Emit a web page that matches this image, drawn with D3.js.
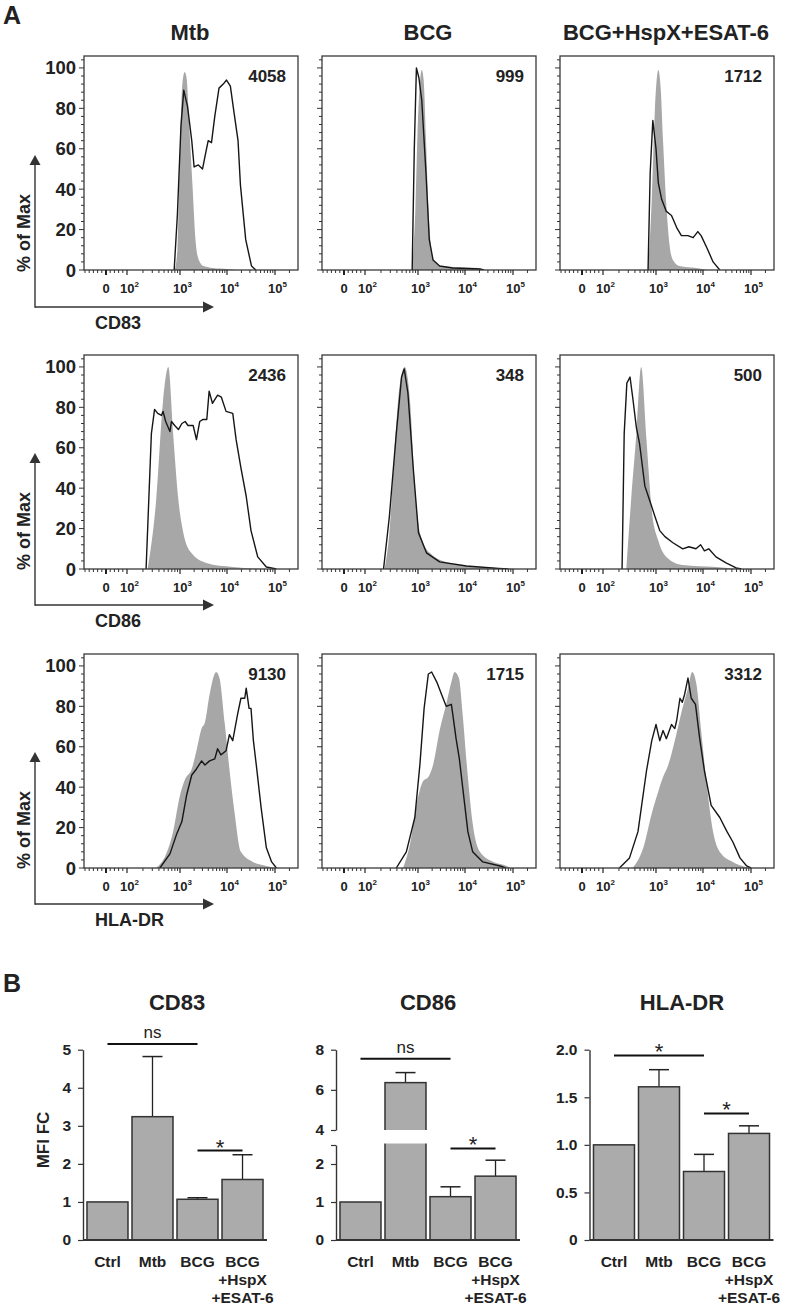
<!DOCTYPE html>
<html><head><meta charset="utf-8">
<script src="https://cdn.jsdelivr.net/npm/d3@7"></script>
<style>
body{margin:0;background:#fff}
text{font-family:"Liberation Sans",Arial,Helvetica,sans-serif;fill:#222}
</style></head>
<body>
<svg id="chart" width="786" height="1306"></svg>
<script>
// ---------------- DATA ----------------
const colTitles = ["Mtb", "BCG", "BCG+HspX+ESAT-6"];
const markers = ["CD83", "CD86", "HLA-DR"];
const mfiCD83 = ["4058", "999", "1712"];
const mfiCD86 = ["2436", "348", "500"];
const mfiHLA = ["9130", "1715", "3312"];
const histYTicks = [0, 20, 40, 60, 80, 100];
const histXMajor = [0, 1e2, 1e3, 1e4, 1e5];
const histXLabels = [["0", ""], ["10", "2"], ["10", "3"], ["10", "4"], ["10", "5"]];

// histogram points: [log10(fluorescence), % of Max]
// gray = unstimulated control (filled), line = stimulated (black line)
const gray_CD83_Mtb = [[2.90,0],[2.95,10],[3.00,60],[3.05,92],[3.10,98],[3.14,95],[3.20,70],[3.27,40],[3.33,15],[3.40,5],[3.50,2],[3.70,1],[4.00,0.5],[4.20,0]];
const line_CD83_Mtb = [[2.89,0],[2.95,27],[3.02,71],[3.08,89],[3.16,81],[3.25,64],[3.30,51],[3.39,52],[3.48,50],[3.53,56],[3.60,64],[3.67,63],[3.74,76],[3.83,90],[3.92,92],[3.99,94],[4.07,91],[4.14,79],[4.23,64],[4.28,42],[4.39,15],[4.51,2],[4.60,0]];
const gray_CD83_BCG = [[2.89,0],[2.95,30],[3.00,75],[3.05,95],[3.08,99],[3.12,94],[3.17,65],[3.22,32],[3.29,9],[3.36,4],[3.50,2],[3.80,1.5],[4.30,1],[4.40,0]];
const line_CD83_BCG = [[2.89,0],[2.93,60],[2.97,100],[3.02,95],[3.08,84],[3.17,48],[3.24,15],[3.32,5],[3.46,2],[3.74,1],[4.30,0.5],[4.40,0]];
const gray_CD83_Combo = [[2.85,0],[2.92,35],[2.98,80],[3.05,99],[3.10,90],[3.15,64],[3.22,32],[3.29,12],[3.36,5],[3.50,2],[3.86,1],[4.10,0]];
const line_CD83_Combo = [[2.85,0],[2.89,48],[2.94,74],[3.00,60],[3.05,43],[3.12,35],[3.22,29],[3.33,27],[3.44,21],[3.54,17],[3.68,17],[3.79,16],[3.89,19],[3.96,17],[4.08,11],[4.21,4],[4.35,0]];

const gray_CD86_Mtb = [[2.39,0],[2.55,34],[2.68,83],[2.78,100],[2.87,67],[2.97,34],[3.07,18],[3.24,8],[3.56,3],[4.12,1],[4.80,0]];
const line_CD86_Mtb = [[2.36,0],[2.46,67],[2.52,79],[2.58,77],[2.65,76],[2.68,78],[2.73,73],[2.81,68],[2.84,73],[2.90,71],[2.97,69],[3.04,72],[3.11,73],[3.17,71],[3.28,71],[3.35,64],[3.42,73],[3.49,74],[3.57,74],[3.62,88],[3.69,82],[3.80,86],[3.88,85],[3.98,78],[4.12,77],[4.19,64],[4.29,50],[4.40,36],[4.50,19],[4.64,6],[4.82,1],[5.03,0]];
const gray_CD86_BCG = [[2.37,0],[2.46,18],[2.56,59],[2.65,90],[2.75,100],[2.85,83],[2.94,41],[3.04,18],[3.25,8],[3.67,3],[4.37,1],[5.07,0]];
const line_CD86_BCG = [[2.35,0],[2.46,26],[2.59,67],[2.69,95],[2.74,99],[2.81,87],[2.91,50],[3.01,18],[3.18,8],[3.46,3.5],[4.03,1.5],[4.70,0.3],[4.90,0]];
const gray_CD86_Combo = [[2.44,0],[2.53,34],[2.63,67],[2.72,100],[2.82,64],[2.92,29],[3.05,14],[3.22,6],[3.57,2],[4.27,1],[4.77,0]];
const line_CD86_Combo = [[2.36,0],[2.40,67],[2.45,92],[2.51,95],[2.56,85],[2.63,70],[2.69,62],[2.79,41],[2.88,34],[2.98,26],[3.08,19],[3.19,16],[3.36,13],[3.57,10],[3.70,11],[3.85,10],[3.95,12],[4.03,9],[4.12,10],[4.27,6],[4.48,3],[4.69,0.5],[4.80,0]];

const gray_HLA_Mtb = [[2.55,0],[2.74,7],[2.87,18],[3.00,36],[3.11,44],[3.25,49],[3.35,58],[3.46,69],[3.53,72],[3.63,86],[3.77,97],[3.84,94],[3.95,72],[4.05,49],[4.16,27],[4.29,8],[4.54,3],[4.82,1],[5.00,0]];
const line_HLA_Mtb = [[2.62,0],[2.81,7],[2.94,17],[3.04,23],[3.14,36],[3.25,46],[3.35,49],[3.46,53],[3.53,51],[3.63,53],[3.74,54],[3.80,59],[3.87,56],[3.98,58],[4.05,66],[4.12,63],[4.22,76],[4.29,84],[4.37,84],[4.40,89],[4.46,79],[4.50,79],[4.55,63],[4.61,51],[4.71,30],[4.82,10],[4.93,3],[5.03,0]];
const gray_HLA_BCG = [[2.72,0],[2.85,12],[2.97,31],[3.11,43],[3.22,45],[3.32,51],[3.46,68],[3.60,81],[3.71,92],[3.78,97],[3.87,94],[3.95,76],[4.06,45],[4.16,22],[4.31,8],[4.59,3],[4.87,1],[4.95,0]];
const line_HLA_BCG = [[2.59,0],[2.78,8],[2.94,25],[3.04,51],[3.13,79],[3.22,96],[3.29,97],[3.40,92],[3.50,86],[3.60,80],[3.71,81],[3.74,76],[3.81,64],[3.88,54],[3.95,40],[4.06,18],[4.16,8],[4.37,3],[4.73,1],[4.85,0]];
const gray_HLA_Combo = [[2.56,0],[2.76,10],[2.92,27],[3.05,38],[3.15,45],[3.26,51],[3.40,63],[3.54,77],[3.68,89],[3.77,97],[3.86,91],[3.96,68],[4.07,43],[4.21,18],[4.38,7],[4.62,3],[4.89,0.5],[4.98,0]];
const line_HLA_Combo = [[2.31,0],[2.50,5],[2.66,18],[2.82,48],[2.92,63],[3.00,71],[3.08,63],[3.15,68],[3.22,64],[3.33,71],[3.40,69],[3.44,73],[3.51,84],[3.56,82],[3.61,86],[3.68,94],[3.75,84],[3.84,81],[3.93,64],[4.03,48],[4.17,31],[4.35,25],[4.50,18],[4.62,13],[4.77,5],[4.91,1],[5.00,0]];

// Panel B
const barCategories = ["Ctrl", "Mtb", "BCG", "BCG+HspX+ESAT-6"];
const barCategoryLines = [["Ctrl"], ["Mtb"], ["BCG"], ["BCG", "+HspX", "+ESAT-6"]];
const cd83Mean = [1.00, 3.24, 1.07, 1.59];
const cd83Sem  = [0, 1.58, 0.04, 0.65];
const cd86Mean = [1.00, 6.36, 1.14, 1.68];
const cd86Sem  = [0, 0.50, 0.26, 0.42];
const hlaMean  = [1.00, 1.61, 0.72, 1.12];
const hlaSem   = [0, 0.18, 0.18, 0.08];
const cd83Ticks = [0, 1, 2, 3, 4, 5];
const cd86TicksLow = [0, 1, 2];
const cd86TicksHigh = [4, 6, 8];
const hlaTicks = [0, 0.5, 1.0, 1.5, 2.0];
const cd83Sig = [{from: 0, to: 2, level: 5.15, label: "ns"}, {from: 2, to: 3, level: 2.35, label: "*"}];
const cd86Sig = [{from: 0, to: 2, level: 7.55, label: "ns"}, {from: 2, to: 3, level: 2.41, label: "*"}];
const hlaSig  = [{from: 0, to: 2, level: 1.94, label: "*"}, {from: 2, to: 3, level: 1.33, label: "*"}];

// ---------------- DRAW ----------------
const svg = d3.select("#chart");
const FONT = '"Liberation Sans", Arial, sans-serif';

svg.append("text").attr("x", 3).attr("y", 24).attr("font-size", 25).attr("font-weight", "bold").text("A");
svg.append("text").attr("x", 3).attr("y", 992).attr("font-size", 25).attr("font-weight", "bold").text("B");

const colLefts = [84, 322, 560];
const rowTops = [56, 355, 654];
const PW = 214, PH = 214;

colTitles.forEach((t, i) => {
  svg.append("text").attr("x", colLefts[i] + PW / 2 - 1).attr("y", 40)
    .attr("text-anchor", "middle").attr("font-size", 22).attr("font-weight", "bold").text(t);
});

const ZERO_U = 1.6;
const toUnits = v => v >= 100 ? Math.log10(v) : ZERO_U + (v / 100) * (2 - ZERO_U);
const minorRaw = [-100, -80, -60, -40, -20, 20, 40, 60, 80];
[1e2, 1e3, 1e4].forEach(d => { for (let k = 2; k <= 9; k++) minorRaw.push(k * d); });
minorRaw.push(2e5);

const histData = [
  [[gray_CD83_Mtb, line_CD83_Mtb], [gray_CD83_BCG, line_CD83_BCG], [gray_CD83_Combo, line_CD83_Combo]],
  [[gray_CD86_Mtb, line_CD86_Mtb], [gray_CD86_BCG, line_CD86_BCG], [gray_CD86_Combo, line_CD86_Combo]],
  [[gray_HLA_Mtb, line_HLA_Mtb], [gray_HLA_BCG, line_HLA_BCG], [gray_HLA_Combo, line_HLA_Combo]]
];
const mfiRows = [mfiCD83, mfiCD86, mfiHLA];

function drawHist(r, c) {
  const left = colLefts[c], top = rowTops[r], bottom = top + PH;
  const g = svg.append("g");
  const x = d3.scaleLinear().domain([ZERO_U, 2, 3, 4, 5])
    .range([left + 22, left + 43, left + 96, left + 143, left + 191]);
  const y = d3.scaleLinear().domain([0, 105.9]).range([bottom, top]);
  const cid = `clip${r}${c}`;
  g.append("clipPath").attr("id", cid).append("rect")
    .attr("x", left).attr("y", top).attr("width", PW).attr("height", PH);
  const [gray, line] = histData[r][c];
  const plot = g.append("g").attr("clip-path", `url(#${cid})`);
  plot.append("path").datum(gray)
    .attr("d", d3.area().x(d => x(d[0])).y0(y(0)).y1(d => y(d[1])).curve(d3.curveMonotoneX))
    .attr("fill", "#a7a7a7");
  plot.append("path").datum(line)
    .attr("d", d3.line().x(d => x(d[0])).y(d => y(d[1])).curve(d3.curveLinear))
    .attr("fill", "none").attr("stroke", "#161616").attr("stroke-width", 1.4).attr("stroke-linejoin", "round");
  // frame
  g.append("rect").attr("x", left).attr("y", top).attr("width", PW).attr("height", PH)
    .attr("fill", "none").attr("stroke", "#3a3a3a").attr("stroke-width", 1.3);
  // y ticks
  for (let v = 0; v <= 104; v += 4) {
    const major = v % 20 === 0;
    g.append("line").attr("x1", left).attr("x2", left - (major ? 5 : 3))
      .attr("y1", y(v)).attr("y2", y(v)).attr("stroke", "#333").attr("stroke-width", 1);
  }
  if (c === 0) {
    histYTicks.forEach(v => {
      g.append("text").attr("x", left - 8).attr("y", y(v) + 6.5).attr("text-anchor", "end")
        .attr("font-size", 18.5).attr("font-weight", "bold").text(v);
    });
  }
  // x ticks
  minorRaw.forEach(v => {
    g.append("line").attr("x1", x(toUnits(v))).attr("x2", x(toUnits(v)))
      .attr("y1", bottom).attr("y2", bottom + 3).attr("stroke", "#333").attr("stroke-width", 1);
  });
  histXMajor.forEach((v, i) => {
    const px = x(toUnits(v));
    g.append("line").attr("x1", px).attr("x2", px).attr("y1", bottom).attr("y2", bottom + 5)
      .attr("stroke", "#222").attr("stroke-width", v === 0 ? 2 : 1.2);
    const [base, sup] = histXLabels[i];
    const t = g.append("text").attr("y", bottom + 23).attr("font-size", 13).attr("font-weight", "bold");
    if (sup === "") {
      t.attr("x", px).attr("text-anchor", "middle").text(base);
    } else {
      t.attr("x", px - 7).attr("text-anchor", "start");
      t.append("tspan").text(base);
      t.append("tspan").attr("dy", -6).attr("font-size", 8).text(sup);
    }
  });
  // MFI
  g.append("text").attr("x", left + PW - 12).attr("y", top + 26).attr("text-anchor", "end")
    .attr("font-size", 17).attr("font-weight", "bold").text(mfiRows[r][c]);
}

for (let r = 0; r < 3; r++) for (let c = 0; c < 3; c++) drawHist(r, c);

// axis arrows & labels
const arrowY = [307, 605, 904];
markers.forEach((m, r) => {
  const hy = arrowY[r];
  const tip = hy - 152;
  svg.append("line").attr("x1", 35).attr("x2", 204).attr("y1", hy).attr("y2", hy).attr("stroke", "#333").attr("stroke-width", 1.4);
  svg.append("path").attr("d", `M203,${hy - 5.5}L214,${hy}L203,${hy + 5.5}Z`).attr("fill", "#333");
  svg.append("line").attr("x1", 35).attr("x2", 35).attr("y1", hy + 0.7).attr("y2", tip + 8).attr("stroke", "#333").attr("stroke-width", 1.4);
  svg.append("path").attr("d", `M29.5,${tip + 10}L35,${tip}L40.5,${tip + 10}Z`).attr("fill", "#333");
  svg.append("text").attr("x", 95).attr("y", hy + 22).attr("font-size", 18).attr("font-weight", "bold").text(m);
  svg.append("text").attr("transform", `translate(30,${hy - 74}) rotate(-90)`)
    .attr("text-anchor", "middle").attr("font-size", 18).attr("font-weight", "bold").text("% of Max");
});

// ---------------- PANEL B ----------------
const BASE = 1240, TOP5 = 1049.7;

function drawBars(cfg) {
  const g = svg.append("g");
  const xb = d3.scaleBand().domain(barCategories).range([cfg.x0, cfg.x0 + 180])
    .paddingInner(0.089).paddingOuter(0.044);
  const yv = cfg.yv;
  // title
  g.append("text").attr("x", cfg.titleX).attr("y", 1010).attr("text-anchor", "middle")
    .attr("font-size", 22).attr("font-weight", "bold").text(cfg.title);
  // bars
  barCategories.forEach((cat, i) => {
    const m = cfg.mean[i], s = cfg.sem[i];
    const bx = xb(cat), bw = xb.bandwidth();
    if (s > 0) {
      const cx = bx + bw / 2;
      g.append("line").attr("x1", cx).attr("x2", cx).attr("y1", yv(m)).attr("y2", yv(m + s))
        .attr("stroke", "#222").attr("stroke-width", 1.3);
      g.append("line").attr("x1", cx - 10).attr("x2", cx + 10).attr("y1", yv(m + s)).attr("y2", yv(m + s))
        .attr("stroke", "#222").attr("stroke-width", 1.5);
    }
    g.append("rect").attr("x", bx).attr("y", yv(m)).attr("width", bw).attr("height", yv(0) - yv(m))
      .attr("fill", "#ababab").attr("stroke", "#333").attr("stroke-width", 1.5);
    if (cfg.gap && m > cfg.gap[1]) {
      g.append("rect").attr("x", bx - 2).attr("y", yv(cfg.gap[1]))
        .attr("width", bw + 4).attr("height", yv(cfg.gap[0]) - yv(cfg.gap[1]) - 1.5).attr("fill", "#fff");
    }
    barCategoryLines[i].forEach((ln, k) => {
      g.append("text").attr("x", bx + bw / 2).attr("y", 1267 + k * 18).attr("text-anchor", "middle")
        .attr("font-size", 15.5).attr("font-weight", "bold").text(ln);
    });
  });
  // y axis segments
  cfg.axes.forEach(a => {
    const ax = g.append("g").attr("transform", `translate(${cfg.x0 - 2},0)`)
      .call(d3.axisLeft(a.scale).tickValues(a.ticks).tickSize(5).tickSizeOuter(0).tickPadding(7)
        .tickFormat(a.fmt));
    ax.select(".domain").attr("stroke", "#333").attr("stroke-width", 1.4);
    ax.selectAll(".tick line").attr("stroke", "#333").attr("stroke-width", 1.2);
    ax.selectAll(".tick text").attr("font-size", 15.5).attr("font-weight", "bold")
      .attr("font-family", FONT).attr("fill", "#222");
  });
  // baseline
  g.append("line").attr("x1", cfg.x0 - 2).attr("x2", cfg.x0 + 182).attr("y1", yv(0)).attr("y2", yv(0))
    .attr("stroke", "#333").attr("stroke-width", 2);
  // significance
  cfg.sig.forEach(sg => {
    const x1 = xb(barCategories[sg.from]) + xb.bandwidth() / 2;
    const x2 = xb(barCategories[sg.to]) + xb.bandwidth() / 2;
    const ly = yv(sg.level);
    g.append("line").attr("x1", x1).attr("x2", x2).attr("y1", ly).attr("y2", ly)
      .attr("stroke", "#111").attr("stroke-width", 2);
    if (sg.label === "ns") {
      g.append("text").attr("x", (x1 + x2) / 2).attr("y", ly - 6).attr("text-anchor", "middle")
        .attr("font-size", 17).text("ns");
    } else {
      g.append("text").attr("x", (x1 + x2) / 2).attr("y", ly + 4).attr("text-anchor", "middle")
        .attr("font-size", 22).text("*");
    }
  });
}

// CD83
const yCD83 = d3.scaleLinear().domain([0, 5]).range([BASE, TOP5]);
drawBars({
  title: "CD83", titleX: 177, x0: 85, mean: cd83Mean, sem: cd83Sem, yv: yCD83, sig: cd83Sig,
  axes: [{scale: yCD83, ticks: cd83Ticks, fmt: d3.format("d")}]
});
// CD86 (broken axis)
const yCD86Low = d3.scaleLinear().domain([0, 2.5]).range([BASE, 1145]);
const yCD86High = d3.scaleLinear().domain([4, 8]).range([1130, TOP5]);
const yCD86 = v => v <= 2.5 ? yCD86Low(v) : (v >= 4 ? yCD86High(v) : yCD86Low(2.5) + (v - 2.5) / 1.5 * (yCD86High(4) - yCD86Low(2.5)));
drawBars({
  title: "CD86", titleX: 428, x0: 338, mean: cd86Mean, sem: cd86Sem, yv: yCD86, sig: cd86Sig, gap: [2.5, 4],
  axes: [
    {scale: yCD86Low, ticks: cd86TicksLow.concat([2.5]), fmt: d => d === 2.5 ? "" : d3.format("d")(d)},
    {scale: yCD86High, ticks: cd86TicksHigh, fmt: d3.format("d")}
  ]
});
// HLA-DR
const yHLA = d3.scaleLinear().domain([0, 2]).range([BASE, TOP5]);
drawBars({
  title: "HLA-DR", titleX: 682, x0: 591.5, mean: hlaMean, sem: hlaSem, yv: yHLA, sig: hlaSig,
  axes: [{scale: yHLA, ticks: hlaTicks, fmt: d => d === 0 ? "0" : d3.format(".1f")(d)}]
});

// y label
svg.append("text").attr("transform", "translate(49,1140) rotate(-90)").attr("text-anchor", "middle")
  .attr("font-size", 17).attr("font-weight", "bold").text("MFI FC");
</script>
</body></html>
